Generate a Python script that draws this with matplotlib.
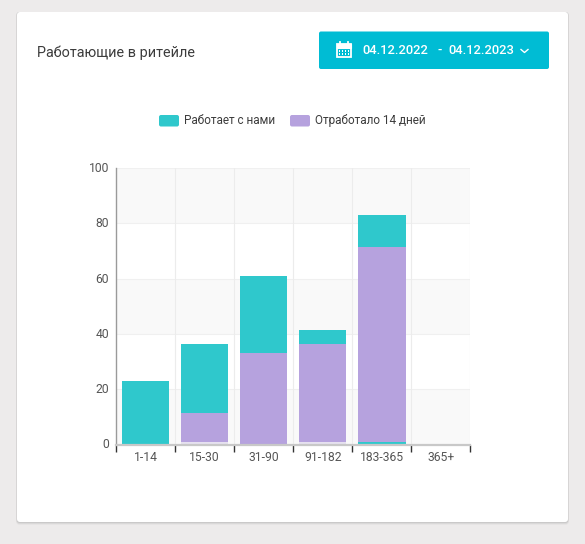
import matplotlib
matplotlib.use("Agg")
import matplotlib.pyplot as plt
from matplotlib.patches import FancyBboxPatch, Rectangle
from matplotlib.transforms import ScaledTranslation
import numpy as np

plt.rcParams['font.family'] = ['Roboto', 'DejaVu Sans']

categories = ['1-14', '15-30', '31-90', '91-182', '183-365', '365+']
base_strip = [0, 1, 0, 1, 0, 0]
base_teal = [23, 0, 0, 0, 1, 0]
worked_14 = [0, 10.3, 33, 35.3, 70.4, 0]
working_top = [0, 25, 28, 5, 11.6, 0]
y_ticks = [0, 20, 40, 60, 80, 100]
title = 'Работающие в ритейле'
date_from = '04.12.2022'
date_sep = '-'
date_to = '04.12.2023'
legend_labels = ['Работает с нами', 'Отработало 14 дней']

TEAL = '#2fc8cc'
PURPLE = '#b6a2de'
W, H = 585, 544

fig = plt.figure(figsize=(W / 100, H / 100), dpi=100, facecolor='#edebeb')

bg = fig.add_axes([0, 0, 1, 1], zorder=0)
bg.set_xlim(0, W)
bg.set_ylim(H, 0)
bg.axis('off')
for off, col in [(2.6, '#e3e1e1'), (1.7, '#d6d5d5'), (0.9, '#c9c8c8')]:
    bg.add_patch(FancyBboxPatch((17 - off * 0.3, 12), 551 + off * 0.6, 510 + off,
                                boxstyle='round,pad=0,rounding_size=3', fc=col, ec='none'))
bg.add_patch(FancyBboxPatch((17, 12), 551, 510, boxstyle='round,pad=0,rounding_size=3',
                            fc='white', ec='none'))
bg.text(37, 53, title, fontsize=10.35, color='#3c3c3c', va='center', ha='left')

# date button
bg.add_patch(FancyBboxPatch((319, 31.5), 230, 37.5, boxstyle='round,pad=0,rounding_size=2',
                            fc='#00bcd4', ec='none'))
for xt, s in [(362.7, date_from), (437.5, date_sep), (448, date_to)]:
    bg.text(xt, 50.5, s, fontsize=9.3, fontweight='medium', color='white', va='center', ha='left')
bg.plot([521, 524.5, 528], [49.5, 52.5, 49.5], color='white', lw=1.0)
# calendar icon
bg.add_patch(Rectangle((336.5, 44), 14, 13, fc='none', ec='white', lw=1.3))
bg.add_patch(Rectangle((336.5, 44), 14, 3.5, fc='white', ec='white', lw=0.8))
for x in (339.5, 347.5):
    bg.plot([x, x], [41.8, 44.5], color='white', lw=1.3)
for yy in (50, 53):
    for x in (339, 342, 345, 348):
        bg.add_patch(Rectangle((x - 0.3, yy), 1.5, 1.5, fc='white', ec='none'))

# legend
for x0, col, lab, xt in [(159, TEAL, legend_labels[0], 184), (290, PURPLE, legend_labels[1], 315)]:
    bg.add_patch(FancyBboxPatch((x0, 115), 20, 11.5, boxstyle='round,pad=0,rounding_size=2',
                                fc=col, ec='none'))
    bg.text(xt, 120.5, lab, fontsize=8.5, color='#3c3c3c', va='center', ha='left')

# chart
ax = fig.add_axes([116 / W, 1 - 444.5 / H, (470.5 - 116) / W, (444.5 - 168) / H], zorder=1)
ax.patch.set_alpha(0)
x = np.arange(len(categories))
ax.set_xlim(-0.5, 5.5)
ax.set_ylim(0, 100)

for lo in (0, 40, 80):
    ax.axhspan(lo, lo + 20, fc='#f9f9f9', ec='none', zorder=0)
for v in y_ticks[1:]:
    ax.axhline(v, color='#f0f0f0', lw=0.8, zorder=1)
for b in np.arange(0.5, 5.6, 1):
    ax.axvline(b, color='#ececec', lw=0.8, zorder=1)

edge = dict(width=0.8, linewidth=0, zorder=2)
bottom = np.zeros(6)
ax.bar(x, base_strip, bottom=bottom, color='#e6e1f0', **edge)
bottom += np.array(base_strip)
ax.bar(x, base_teal, bottom=bottom, color=TEAL, **edge)
bottom += np.array(base_teal)
ax.bar(x, worked_14, bottom=bottom, color=PURPLE, **edge)
bottom += np.array(worked_14)
ax.bar(x, working_top, bottom=bottom, color=TEAL, **edge)

for s in ('top', 'right'):
    ax.spines[s].set_visible(False)
ax.spines['left'].set_color('#9a9a9a')
ax.spines['left'].set_linewidth(1)
ax.spines['bottom'].set_color('#c8c8c8')
ax.spines['bottom'].set_linewidth(1.6)

ax.set_yticks(y_ticks)
ax.tick_params(axis='y', length=0, pad=5, labelsize=8.7, labelcolor='#555555')
up = ScaledTranslation(0, 1 / 100, fig.dpi_scale_trans)
for lab in ax.get_yticklabels():
    lab.set_transform(lab.get_transform() + up)
ax.set_xticks(np.arange(-0.5, 5.6, 1))
ax.set_xticklabels([])
ax.tick_params(axis='x', which='major', length=5, width=1, color='#333333', direction='out')
ax.set_xticks(x, minor=True)
ax.set_xticklabels(categories, minor=True)
ax.tick_params(axis='x', which='minor', length=0, pad=5, labelsize=8.7, labelcolor='#555555')

fig.savefig('out.png', dpi=100, facecolor=fig.get_facecolor())
